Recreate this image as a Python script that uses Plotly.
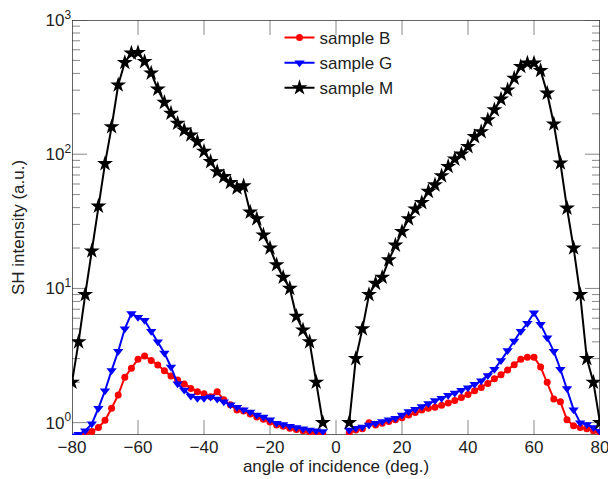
import plotly.graph_objects as go

# ---- data ----
angle_M_left = list(range(-80, -2, 2))
sample_M_left = [2.0, 4.0, 9.0, 19, 41, 85, 160, 328, 482, 566, 572, 490, 402, 305, 243, 202,
                 170, 151, 139, 124, 105, 88, 74, 68, 61.5, 56, 58, 37, 33, 25, 20, 15, 12.1,
                 10, 6.2, 4.9, 4.0, 2.0, 1.0]
angle_M_right = list(range(4, 82, 2))
sample_M_right = [1.0, 3.0, 5.0, 9.0, 10.9, 12.1, 16.3, 21, 26.5, 33, 39, 43.6, 52.8, 59, 69,
                  81, 92, 100, 114, 135, 147, 180, 214, 257, 301, 368, 450, 477, 477, 420, 285,
                  168, 86, 39.6, 20, 9.0, 3.0, 2.0, 1.0]

angle_G_left = list(range(-80, -2, 2))
sample_G_left = [0.80, 0.82, 0.87, 0.98, 1.28, 1.73, 2.45, 3.4, 5.0, 6.5, 6.1, 5.8, 4.8, 4.0,
                 3.3, 2.6, 1.95, 1.75, 1.58, 1.52, 1.52, 1.55, 1.50, 1.43, 1.36, 1.30, 1.25,
                 1.20, 1.14, 1.10, 1.05, 0.99, 0.97, 0.94, 0.92, 0.90, 0.88, 0.87, 0.86]
angle_G_right = list(range(4, 82, 2))
sample_G_right = [0.88, 0.91, 0.93, 0.96, 0.99, 1.02, 1.05, 1.08, 1.14, 1.21, 1.26, 1.32, 1.39,
                  1.46, 1.52, 1.60, 1.66, 1.74, 1.82, 1.93, 2.05, 2.25, 2.50, 2.90, 3.45, 4.05,
                  4.8, 5.5, 6.6, 5.4, 4.3, 3.4, 2.5, 1.8, 1.25, 1.0, 0.97, 0.92, 0.86]

angle_B_left = list(range(-78, -2, 2))
sample_B_left = [0.80, 0.83, 0.86, 0.92, 1.04, 1.28, 1.61, 2.18, 2.54, 2.97, 3.14, 2.9, 2.69,
                 2.44, 2.23, 2.08, 1.94, 1.80, 1.70, 1.64, 1.56, 1.70, 1.48, 1.36, 1.24, 1.22,
                 1.16, 1.10, 1.06, 1.01, 0.96, 0.94, 0.91, 0.89, 0.87, 0.85, 0.84, 0.83]
angle_B_right = list(range(4, 82, 2))
sample_B_right = [0.84, 0.88, 0.90, 1.0, 0.96, 0.99, 1.02, 1.05, 1.09, 1.14, 1.19, 1.24, 1.28,
                  1.30, 1.35, 1.40, 1.46, 1.54, 1.62, 1.73, 1.83, 1.96, 2.12, 2.27, 2.47, 2.70,
                  2.97, 3.07, 3.07, 2.6, 2.0, 1.5, 1.43, 1.05, 0.95, 0.92, 0.90, 0.87, 0.83]

x_ticks = [-80, -60, -40, -20, 0, 20, 40, 60, 80]
y_ticks = [1, 10, 100, 1000]
y_tick_labels = ["10<sup>0</sup>", "10<sup>1</sup>", "10<sup>2</sup>", "10<sup>3</sup>"]
y_minor = [m * 10 ** k for k in range(0, 3) for m in range(2, 10)]

X_RANGE = [-80, 80]
Y_LOG_RANGE = [-0.092, 3]

FONT = "Liberation Sans, Arial, Helvetica, sans-serif"
TICK_COLOR = "#888888"
LINE_COLOR = "#333333"
PLOT_W, PLOT_H = 528, 415
MAJOR_LEN, MINOR_LEN = 15, 8

fig = go.Figure()

# ---- frame and inside ticks, placed through the axis scales ----
x_per_px = (X_RANGE[1] - X_RANGE[0]) / PLOT_W
dec_per_px = (Y_LOG_RANGE[1] - Y_LOG_RANGE[0]) / PLOT_H
y_lo, y_hi = 10 ** Y_LOG_RANGE[0], 10 ** Y_LOG_RANGE[1]

tx, ty = [], []
for t in x_ticks[1:-1]:
    tx += [t, t, None, t, t, None]
    ty += [y_lo, 10 ** (Y_LOG_RANGE[0] + MAJOR_LEN * dec_per_px), None,
           10 ** (Y_LOG_RANGE[1] - MAJOR_LEN * dec_per_px), y_hi, None]
for vals, length in ((y_ticks, MAJOR_LEN), (y_minor, MINOR_LEN)):
    for v in vals:
        tx += [X_RANGE[0], X_RANGE[0] + length * x_per_px, None,
               X_RANGE[1] - length * x_per_px, X_RANGE[1], None]
        ty += [v, v, None, v, v, None]
fig.add_trace(go.Scatter(x=tx, y=ty, mode="lines", line=dict(color=TICK_COLOR, width=1),
                         showlegend=False, hoverinfo="skip", cliponaxis=False))
fig.add_trace(go.Scatter(x=[X_RANGE[0], X_RANGE[1], X_RANGE[1], X_RANGE[0], X_RANGE[0]],
                         y=[y_lo, y_lo, y_hi, y_hi, y_lo], mode="lines",
                         line=dict(color=LINE_COLOR, width=1.5),
                         showlegend=False, hoverinfo="skip", cliponaxis=False))


def add_series(xl, yl, xr, yr, name, color, symbol, size):
    fig.add_trace(go.Scatter(x=xl, y=yl, mode="lines+markers", name=name,
                             line=dict(color=color, width=2),
                             marker=dict(symbol=symbol, size=size, color=color),
                             legendgroup=name))
    fig.add_trace(go.Scatter(x=xr, y=yr, mode="lines+markers", name=name,
                             line=dict(color=color, width=2),
                             marker=dict(symbol=symbol, size=size, color=color),
                             legendgroup=name, showlegend=False))


add_series(angle_B_left, sample_B_left, angle_B_right, sample_B_right,
           "sample B", "#ff0000", "circle", 7)
add_series(angle_G_left, sample_G_left, angle_G_right, sample_G_right,
           "sample G", "#0000ff", "triangle-down", 9)
add_series(angle_M_left, sample_M_left, angle_M_right, sample_M_right,
           "sample M", "#000000", "star", 12)

fig.update_layout(
    width=608, height=479,
    margin=dict(l=72, r=8, t=20, b=44),
    paper_bgcolor="white", plot_bgcolor="white",
    font=dict(family=FONT, size=17, color="#222"),
    legend=dict(x=0.393, y=1.0, xanchor="left", yanchor="top",
                bgcolor="rgba(0,0,0,0)", font=dict(size=17), tracegroupgap=0),
    showlegend=True,
)
fig.update_xaxes(
    range=X_RANGE, tickmode="array", tickvals=x_ticks, ticks="",
    showline=False, showgrid=False, zeroline=False, automargin=False,
    ticklabeloverflow="allow",
    title=dict(text="angle of incidence (deg.)", standoff=0, font=dict(size=17)),
    tickfont=dict(size=17),
)
fig.update_yaxes(
    type="log", range=Y_LOG_RANGE, tickmode="array", tickvals=y_ticks,
    ticktext=y_tick_labels, ticks="", showline=False,
    showgrid=False, zeroline=False, automargin=False,
    title=dict(text="SH intensity (a.u.)", standoff=16, font=dict(size=17)),
    tickfont=dict(size=17),
)

fig.write_html("out.html", post_script="document.body.style.margin='0';",
               config={"displayModeBar": False})
